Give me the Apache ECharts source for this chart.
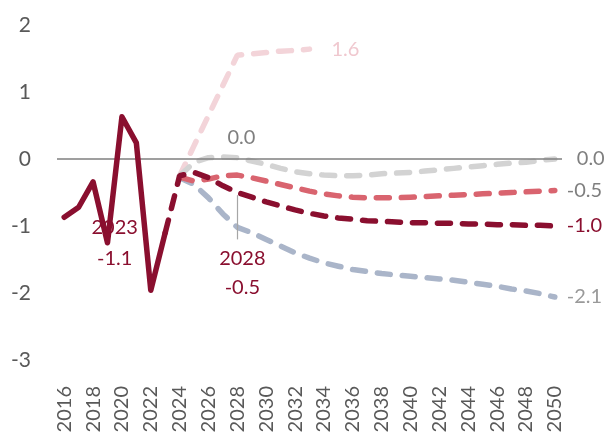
<!DOCTYPE html>
<html>
<head>
<meta charset="utf-8">
<script src="https://cdn.jsdelivr.net/npm/echarts@6/dist/echarts.min.js"></script>
<style>
html,body{margin:0;padding:0;background:#fff;}
#c{width:604px;height:439px;}
</style>
</head>
<body>
<div id="c"></div>
<script>
const years = ['2016','2017','2018','2019','2020','2021','2022','2023','2024','2025','2026','2027','2028','2029','2030','2031','2032','2033','2034','2035','2036','2037','2038','2039','2040','2041','2042','2043','2044','2045','2046','2047','2048','2049','2050'];
const yTicks = [-3, -2, -1, 0, 1, 2];

// historical 2016-2023
const historical = [-0.87, -0.72, -0.34, -1.25, 0.63, 0.24, -1.96, -1.1];
// dark red dashed projection 2023-2050
const baseline = [-1.1, -0.25, -0.2, -0.28, -0.4, -0.5, -0.57, -0.64, -0.7, -0.76, -0.81, -0.85, -0.88, -0.9, -0.92, -0.93, -0.94, -0.95, -0.95, -0.96, -0.96, -0.97, -0.97, -0.98, -0.98, -0.99, -0.99, -1.0];
// pink-red dashed 2024-2050
const scenarioRed = [-0.27, -0.33, -0.3, -0.25, -0.24, -0.28, -0.33, -0.38, -0.43, -0.48, -0.52, -0.55, -0.57, -0.58, -0.58, -0.58, -0.57, -0.56, -0.55, -0.54, -0.53, -0.52, -0.51, -0.5, -0.49, -0.48, -0.47];
// light gray dashed 2024-2050
const scenarioGray = [-0.25, -0.05, 0.02, 0.03, 0.02, -0.03, -0.08, -0.14, -0.19, -0.22, -0.24, -0.25, -0.25, -0.24, -0.22, -0.21, -0.2, -0.18, -0.16, -0.14, -0.12, -0.1, -0.08, -0.06, -0.05, -0.02, 0.0];
// blue-gray dashed 2024-2050
const scenarioBlue = [-0.28, -0.38, -0.58, -0.82, -1.02, -1.1, -1.2, -1.3, -1.4, -1.48, -1.55, -1.6, -1.65, -1.68, -1.71, -1.73, -1.75, -1.77, -1.79, -1.81, -1.84, -1.87, -1.9, -1.94, -1.97, -2.01, -2.06];
// light pink dashed 2024-2033
const scenarioPink = [-0.25, 0.2, 0.65, 1.1, 1.55, 1.57, 1.59, 1.61, 1.62, 1.64];

const C_DARK = '#8A0F2F', C_RED = '#D9646F', C_GRAY = '#D3D3D3', C_BLUE = '#AAB5C9', C_PINK = '#F3D4D9';
const TXT_GRAY = '#7F7F7F';
const FONT = 'Lato';

function pad(arr, startYear) {
  const idx = years.indexOf(String(startYear));
  const out = years.map(() => null);
  arr.forEach((v, i) => { out[idx + i] = v; });
  return out;
}
const fmt = p => Number(Array.isArray(p.value) ? p.value[1] : p.value).toFixed(1);
const dashStyle = (color) => ({ color, width: 5.5, type: [13, 12], cap: 'round' });

function withLabel(data, year, label) {
  return data.map((v, i) => {
    if (years[i] === year) {
      return { value: v, symbol: 'circle', symbolSize: 1,
        itemStyle: { color: 'rgba(0,0,0,0)', borderWidth: 0 },
        label: Object.assign({ show: true, fontFamily: FONT, fontSize: 20 }, label(v)) };
    }
    return v;
  });
}

const histData = withLabel(pad(historical, 2016), '2023', v => ({
  formatter: '2023\n' + v.toFixed(1), position: 'left', distance: 0, offset: [-50, 10],
  color: C_DARK, lineHeight: 31, align: 'center'
}));
const baseData = withLabel(pad(baseline, 2023), '2028', v => ({
  formatter: '2028\n' + v.toFixed(1), position: 'bottom', distance: 51, offset: [5, 0],
  color: C_DARK, lineHeight: 29
}));
const grayData = withLabel(pad(scenarioGray, 2024), '2028', v => ({
  formatter: v.toFixed(1), position: 'top', distance: 10, offset: [4, 0], color: TXT_GRAY
}));

const symOpts = { symbol: 'none', showSymbol: true };

const chart = echarts.init(document.getElementById('c'), null, { renderer: 'canvas' });
chart.setOption({
  animation: false,
  backgroundColor: '#fff',
  grid: { left: 57, right: 42, top: 25, bottom: 79, containLabel: false },
  xAxis: {
    type: 'category',
    data: years,
    boundaryGap: true,
    axisLine: { show: false },
    axisTick: { show: false },
    axisLabel: { interval: 1, rotate: 90, margin: 26, color: '#595959', fontSize: 20, fontFamily: FONT }
  },
  yAxis: {
    type: 'value',
    min: yTicks[0], max: yTicks[yTicks.length - 1], interval: 1,
    axisLine: { show: false },
    axisTick: { show: false },
    splitLine: { show: false },
    axisLabel: { margin: 26, color: '#595959', fontSize: 21, fontFamily: FONT }
  },
  series: [
    {
      type: 'line', data: pad(scenarioPink, 2024), symbol: 'none', lineStyle: dashStyle(C_PINK), z: 2,
      endLabel: { show: true, formatter: fmt, color: '#F0C8CF', fontSize: 20, fontFamily: FONT, distance: 22 }
    },
    Object.assign({
      type: 'line', data: grayData, lineStyle: dashStyle(C_GRAY), z: 3,
      endLabel: { show: true, formatter: fmt, color: TXT_GRAY, fontSize: 20, fontFamily: FONT, distance: 22 },
      markLine: {
        silent: true, symbol: 'none', label: { show: false },
        lineStyle: { color: '#7F7F7F', width: 1.5, type: 'solid' },
        data: [{ yAxis: 0 }]
      }
    }, symOpts),
    {
      type: 'line', data: pad(scenarioBlue, 2024), symbol: 'none', lineStyle: dashStyle(C_BLUE), z: 3,
      endLabel: { show: true, formatter: fmt, color: '#9A9A9A', fontSize: 20, fontFamily: FONT, distance: 12 }
    },
    {
      type: 'line', data: pad(scenarioRed, 2024), symbol: 'none', lineStyle: dashStyle(C_RED), z: 4,
      endLabel: { show: true, formatter: fmt, color: TXT_GRAY, fontSize: 20, fontFamily: FONT, distance: 12 }
    },
    Object.assign({
      type: 'line', data: baseData, lineStyle: dashStyle(C_DARK), z: 5,
      endLabel: { show: true, formatter: fmt, color: C_DARK, fontSize: 20, fontFamily: FONT, distance: 12 },
      markLine: {
        silent: true, symbol: 'none', label: { show: false },
        lineStyle: { color: '#A6A6A6', width: 1.2, type: 'solid' },
        data: [[{ coord: ['2028', -0.54] }, { coord: ['2028', -1.2] }]]
      }
    }, symOpts),
    Object.assign({
      type: 'line', data: histData,
      lineStyle: { color: C_DARK, width: 5.5, cap: 'round', join: 'round' }, z: 6
    }, symOpts)
  ]
});
</script>
</body>
</html>
